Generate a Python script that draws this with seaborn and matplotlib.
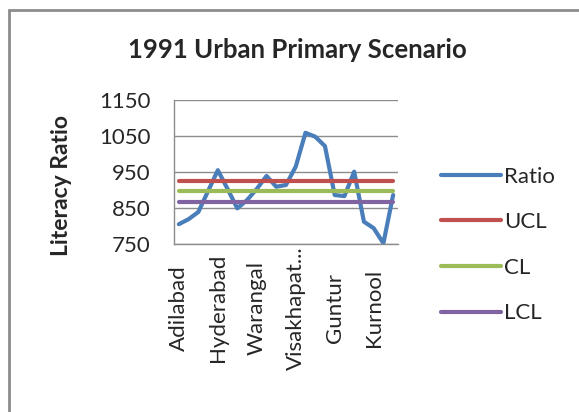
import numpy as np
import pandas as pd
import matplotlib
matplotlib.use("Agg")
import matplotlib.pyplot as plt
from matplotlib.lines import Line2D
import seaborn as sns

# districts (Excel shows every 4th label)
districts = ['Adilabad', 'Nizamabad', 'Karimnagar', 'Medak', 'Hyderabad',
             'Rangareddy', 'Mahbubnagar', 'Nalgonda', 'Warangal', 'Khammam',
             'Srikakulam', 'Vizianagaram', 'Visakhapat...', 'East Godavari',
             'West Godavari', 'Krishna', 'Guntur', 'Prakasam', 'Nellore',
             'Cuddapah', 'Kurnool', 'Anantapur', 'Chittoor']
ratio = [805, 819, 839, 897, 955, 903, 849, 872, 903, 939, 909, 914,
         965, 1059, 1048, 1022, 886, 883, 951, 812, 794, 752, 886]
ucl_value = 926
cl_value = 897
lcl_value = 867

series_names = ['Ratio', 'UCL', 'CL', 'LCL']
colors = ['#4A7EBB', '#C0504D', '#9BBB59', '#8064A2']

n = len(districts)
df = pd.DataFrame({
    'pos': list(range(n)) * 4,
    'value': ratio + [ucl_value] * n + [cl_value] * n + [lcl_value] * n,
    'series': sum([[s] * n for s in series_names], []),
})

sns.set_style('white')
plt.rcParams['font.family'] = ['Lato', 'DejaVu Sans']

W, H = 579, 412
fig = plt.figure(figsize=(W / 100, H / 100), dpi=100)
ax = fig.add_axes([174 / W, 1 - 244 / H, 224 / W, 144 / H])

sns.lineplot(data=df, x='pos', y='value', hue='series',
             hue_order=series_names, palette=colors, linewidth=3,
             solid_capstyle='round', ax=ax, legend=False)

ax.set_xlim(-0.5, n - 0.5)
ax.set_ylim(750, 1150)
ax.set_yticks([750, 850, 950, 1050, 1150])
ax.set_xticks(range(0, n, 4))
ax.set_xticklabels([districts[i] for i in range(0, n, 4)], rotation=90,
                   va='center')
ax.tick_params(axis='y', length=0, pad=17, labelsize=16)
ax.tick_params(axis='x', length=0, pad=46, labelsize=16)
ax.set_xlabel('')
ax.set_ylabel('')

ax.grid(axis='y', color='#8c8c8c', linewidth=1)
ax.set_axisbelow(True)
for side in ['top', 'right']:
    ax.spines[side].set_visible(False)
for side in ['left', 'bottom']:
    ax.spines[side].set_color('#8c8c8c')
    ax.spines[side].set_linewidth(1)

fig.text(297 / W, 1 - 50 / H, '1991 Urban Primary Scenario', ha='center',
         va='center', fontsize=18.5, fontweight='bold')
fig.text(62 / W, 1 - 185 / H, 'Literacy Ratio', ha='center', va='center',
         rotation=90, fontsize=16.5, fontweight='bold')

handles = [Line2D([], [], color=c, linewidth=3, solid_capstyle='round')
           for c in colors]
fig.legend(handles, series_names, loc='center left',
           bbox_to_anchor=(430 / W, 1 - 245 / H), frameon=False,
           fontsize=16, handlelength=2.7, handletextpad=0.15,
           labelspacing=1.15, borderpad=0)

# chart-area border
fig.add_artist(Line2D([9 / W, 1], [1 - 10 / H, 1 - 10 / H],
                      transform=fig.transFigure, color='#8c8c8c', linewidth=2))
fig.add_artist(Line2D([9 / W, 9 / W], [0, 1 - 10 / H],
                      transform=fig.transFigure, color='#8c8c8c', linewidth=2))

fig.savefig('out.png', dpi=100)
